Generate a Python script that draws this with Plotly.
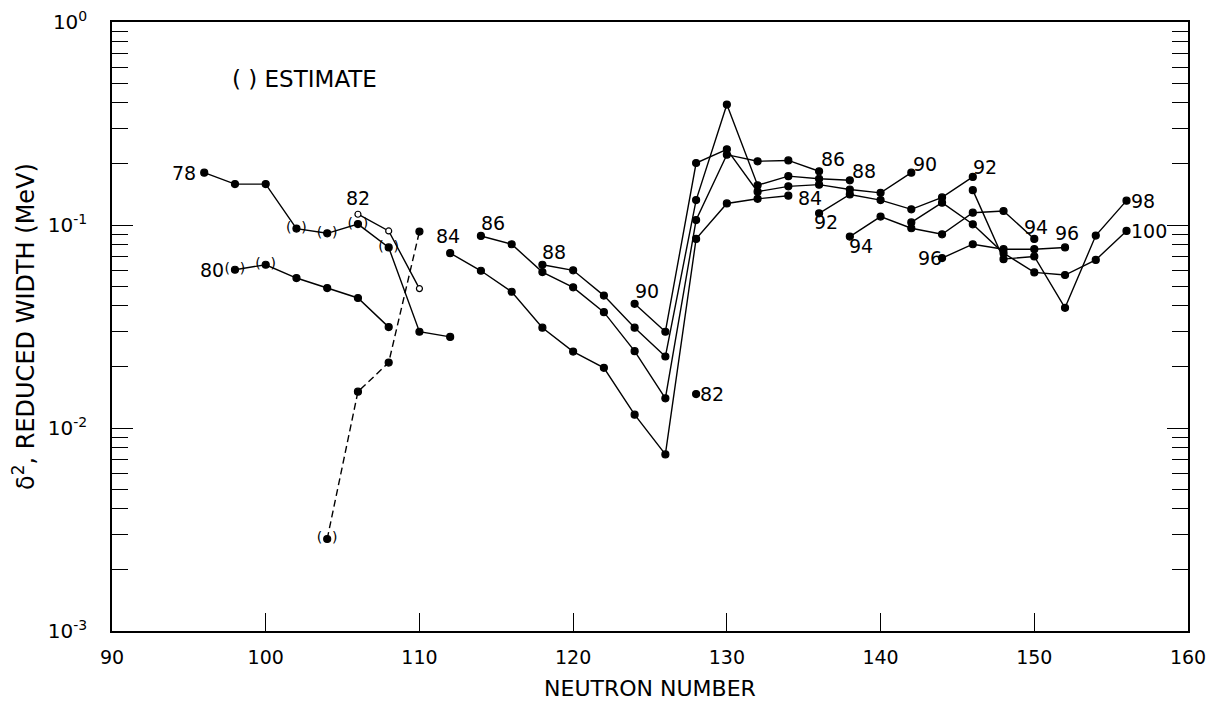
import math
import plotly.graph_objects as go

# ---------------- data ----------------
z78_n = [96, 98, 100, 102, 104, 106, 108, 110, 112]
z78_w = [0.181, 0.159, 0.159, 0.096, 0.091, 0.101, 0.0775, 0.0298, 0.0281]
z78_est = [0, 0, 0, 1, 1, 1, 1, 0, 0]

z80_n = [98, 100, 102, 104, 106, 108]
z80_w = [0.0602, 0.0637, 0.0548, 0.0489, 0.0437, 0.0314]
z80_est = [1, 1, 0, 0, 0, 0]

z82o_n = [106, 108, 110]
z82o_w = [0.113, 0.0935, 0.0486]

dash_n = [104, 106, 108, 110]
dash_w = [0.00284, 0.0151, 0.0210, 0.0928]
dash_est = [1, 0, 0, 0]

z82_n = [128]
z82_w = [0.0147]

z84_n = [112, 114, 116, 118, 120, 122, 124, 126, 128, 130, 132, 134]
z84_w = [0.0727, 0.0595, 0.0469, 0.0312, 0.0238, 0.0198, 0.01163, 0.00741, 0.0854, 0.1277, 0.1346, 0.1394]

z86_n = [114, 116, 118, 120, 122, 124, 126, 128, 130, 132, 134, 136]
z86_w = [0.0883, 0.0804, 0.0586, 0.0493, 0.0372, 0.0239, 0.0140, 0.1058, 0.222, 0.206, 0.208, 0.184]

z88_n = [118, 120, 122, 124, 126, 128, 130, 132, 134, 136, 138]
z88_w = [0.0637, 0.0598, 0.0449, 0.0312, 0.0225, 0.1327, 0.392, 0.157, 0.174, 0.169, 0.166]

z90_n = [124, 126, 128, 130, 132, 134, 136, 138, 140, 142]
z90_w = [0.0409, 0.0298, 0.202, 0.236, 0.146, 0.155, 0.158, 0.1496, 0.144, 0.181]

z92_n = [136, 138, 140, 142, 144, 146]
z92_w = [0.1141, 0.1414, 0.1327, 0.1194, 0.1367, 0.1726]

z94_n = [138, 140, 142, 144, 146, 148, 150]
z94_w = [0.0877, 0.110, 0.0964, 0.090, 0.115, 0.1172, 0.0854]

z96_n = [144, 146, 148, 150, 152]
z96_w = [0.0687, 0.0804, 0.076, 0.076, 0.0775]

z98_n = [146, 148, 150, 152, 154, 156]
z98_w = [0.1485, 0.0679, 0.070, 0.0391, 0.0887, 0.1318]

z100_n = [142, 144, 146, 148, 150, 152, 154, 156]
z100_w = [0.103, 0.1288, 0.1008, 0.0727, 0.0584, 0.0567, 0.0673, 0.0935]

y_tick_vals = [0.001, 0.01, 0.1, 1]
y_tick_text = ["10<sup>-3</sup>", "10<sup>-2</sup>", "10<sup>-1</sup>", "10<sup>0</sup>"]
x_tick_vals = [90, 100, 110, 120, 130, 140, 150, 160]

# ---------------- figure ----------------
FONT = "DejaVu Sans, Liberation Sans, sans-serif"
fig = go.Figure()

# parentheses around estimated points (drawn first, under the dots)
est_x, est_y = [], []
for n, w, e in [(z78_n, z78_w, z78_est), (z80_n, z80_w, z80_est), (dash_n, dash_w, dash_est)]:
    for a, b, c in zip(n, w, e):
        if c:
            est_x.append(a)
            est_y.append(b)
fig.add_trace(go.Scatter(x=est_x, y=est_y, mode="text", text=["(\u2002\u2009)"] * len(est_x),
                         textposition="middle center",
                         textfont=dict(family=FONT, size=14, color="black"),
                         showlegend=False, hoverinfo="skip"))


def series(n, w, dash="solid", fill="black", size=7):
    fig.add_trace(go.Scatter(
        x=n, y=w, mode="lines+markers",
        line=dict(color="black", width=1.4, dash=dash),
        marker=dict(symbol="circle", size=size, color=fill,
                    line=dict(color="black", width=1.2)),
        showlegend=False, hoverinfo="skip"))


for n, w in [(z78_n, z78_w), (z80_n, z80_w), (z84_n, z84_w), (z86_n, z86_w),
             (z88_n, z88_w), (z90_n, z90_w), (z92_n, z92_w), (z94_n, z94_w),
             (z96_n, z96_w), (z98_n, z98_w), (z100_n, z100_w)]:
    series(n, w)
series(dash_n, dash_w, dash="7px,4px")
series(z82o_n, z82o_w, fill="white", size=6)
series(z82_n, z82_w)

# labels: (text, x, y, xanchor, yanchor, xshift, yshift)
labels = [
    ("78", z78_n[0], z78_w[0], "right", "middle", -6, 0),
    ("80", z80_n[0], z80_w[0], "right", "middle", -9, 0),
    ("82", z82o_n[0], z82o_w[0], "center", "bottom", 0, 3),
    ("84", z84_n[0], z84_w[0], "center", "bottom", -2, 4),
    ("86", z86_n[0], z86_w[0], "left", "bottom", -2, 0),
    ("88", z88_n[0], z88_w[0], "left", "bottom", -2, 0),
    ("90", z90_n[0], z90_w[0], "left", "bottom", -2, 0),
    ("82", z82_n[0], z82_w[0], "left", "middle", 2, 0),
    ("84", z84_n[-1], z84_w[-1], "left", "middle", 8, -2),
    ("86", z86_n[-1], z86_w[-1], "left", "bottom", 0, -1),
    ("88", z88_n[-1], z88_w[-1], "left", "bottom", 0, -4),
    ("90", z90_n[-1], z90_w[-1], "left", "bottom", 0, -4),
    ("92", z92_n[0], z92_w[0], "center", "top", 7, 4),
    ("94", z94_n[0], z94_w[0], "left", "top", -3, 4),
    ("92", z92_n[-1], z92_w[-1], "left", "bottom", -2, -3),
    ("96", z96_n[0], z96_w[0], "right", "middle", 2, 0),
    ("94", z94_n[-1], z94_w[-1], "center", "bottom", 2, -1),
    ("96", z96_n[-1], z96_w[-1], "center", "bottom", 2, 1),
    ("98", z98_n[-1], z98_w[-1], "left", "middle", 2, 0),
    ("100", z100_n[-1], z100_w[-1], "left", "middle", 2, 0),
]
for t, x, y, xa, ya, xs, ys in labels:
    fig.add_annotation(x=x, y=math.log10(y), yref="y", xref="x", text=t, showarrow=False,
                       xanchor=xa, yanchor=ya, xshift=xs, yshift=ys,
                       font=dict(family=FONT, size=19, color="black"))

fig.add_annotation(x=0.11, y=0.906, xref="paper", yref="paper", text="( ) ESTIMATE",
                   showarrow=False, xanchor="left", yanchor="middle",
                   font=dict(family=FONT, size=23, color="black"))

# the page body adds an 8 px offset, so the figure is 8 px smaller and margins shifted
fig.update_layout(
    width=1219, height=697,
    margin=dict(l=104, r=39, t=14, b=74, autoexpand=False),
    paper_bgcolor="white", plot_bgcolor="white",
    font=dict(family=FONT, size=19, color="black"),
    xaxis=dict(range=[90, 160], tickvals=x_tick_vals, ticks="inside", ticklen=18,
               tickwidth=1, tickcolor="black", showline=True, linecolor="black",
               linewidth=1.5, mirror=True, showgrid=False, zeroline=False,
               ticklabelstandoff=8, automargin=False, ticklabeloverflow="allow",
               title=dict(text="NEUTRON NUMBER", standoff=14,
                          font=dict(family=FONT, size=22)),
               tickfont=dict(family=FONT, size=19)),
    yaxis=dict(type="log", range=[-3, 0], tickvals=y_tick_vals, ticktext=y_tick_text,
               ticks="inside", ticklen=21, tickwidth=1, tickcolor="black",
               showline=True, linecolor="black", linewidth=1.5, mirror="ticks",
               showgrid=False, zeroline=False, ticklabelstandoff=19, automargin=False,
               ticklabeloverflow="allow",
               minor=dict(tickvals=[m * 10 ** e for e in (-3, -2, -1) for m in range(2, 10)],
                          ticks="inside", ticklen=16, tickwidth=1, tickcolor="black",
                          showgrid=False),
               title=dict(text="\u03b4<sup>2</sup>, REDUCED WIDTH (MeV)", standoff=8,
                          font=dict(family=FONT, size=24)),
               tickfont=dict(family=FONT, size=20)),
)

fig.write_html("out.html")
